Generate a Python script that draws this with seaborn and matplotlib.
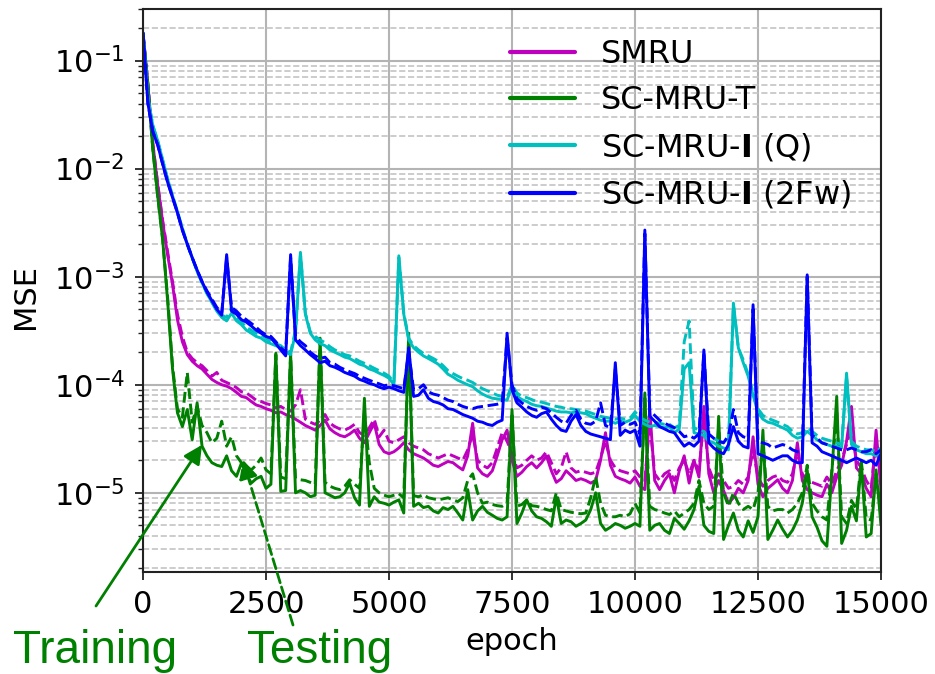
import numpy as np
import matplotlib
matplotlib.use("Agg")
import matplotlib.pyplot as plt
import seaborn as sns

# epochs sampled every 100
epochs = list(range(0, 15001, 100))

smru_train = [
    1.8e-1, 6.0e-2, 1.7e-2, 7.0e-3, 3.2e-3, 1.6e-3, 8.5e-4, 4.0e-4, 2.5e-4, 1.9e-4,
    1.65e-4, 1.5e-4, 1.4e-4, 1.25e-4, 1.12e-4, 1.05e-4, 1.0e-4, 9.7e-5, 9.2e-5, 8.5e-5,
    7.8e-5, 7.6e-5, 7.0e-5, 6.5e-5, 6.3e-5, 6.0e-5, 5.8e-5, 5.5e-5, 5.6e-5, 5.3e-5,
    5.1e-5, 4.8e-5, 4.5e-5, 4.2e-5, 4.0e-5, 3.8e-5, 4.2e-5, 4.7e-5, 3.9e-5, 3.6e-5,
    3.4e-5, 3.3e-5, 3.5e-5, 3.8e-5, 3.2e-5, 2.9e-5, 3.6e-5, 4.4e-5, 2.8e-5, 2.4e-5,
    2.3e-5, 2.4e-5, 2.6e-5, 2.9e-5, 2.5e-5, 2.3e-5, 2.2e-5, 2.1e-5, 1.95e-5, 1.8e-5,
    1.75e-5, 1.85e-5, 1.95e-5, 1.9e-5, 1.75e-5, 1.63e-5, 2.2e-5, 4.4e-5, 1.7e-5, 1.5e-5,
    1.42e-5, 1.6e-5, 2.2e-5, 3.1e-5, 3.8e-5, 2.0e-5, 1.42e-5, 1.55e-5, 1.75e-5, 1.9e-5,
    1.7e-5, 1.9e-5, 2.2e-5, 1.6e-5, 1.25e-5, 1.35e-5, 1.6e-5, 1.45e-5, 1.3e-5, 1.35e-5,
    1.3e-5, 1.23e-5, 1.3e-5, 2.0e-5, 3.6e-5, 1.8e-5, 1.42e-5, 1.35e-5, 1.3e-5, 1.23e-5,
    1.4e-5, 1.15e-5, 1.07e-5, 5.9e-5, 1.3e-5, 1.07e-5, 1.3e-5, 1.5e-5, 1.0e-5, 1.6e-5,
    2.2e-5, 1.23e-5, 2.0e-5, 1.4e-5, 6.3e-5, 1.5e-5, 1.0e-5, 1.3e-5, 1.05e-5, 8.0e-6,
    9.0e-6, 1.1e-5, 1.0e-5, 1.3e-5, 3.3e-5, 1.2e-5, 9.2e-6, 1.1e-5, 1.2e-5, 1.32e-5,
    1.1e-5, 1.0e-5, 1.3e-5, 2.9e-5, 1.3e-5, 1.07e-5, 1.0e-5, 9.5e-6, 9.2e-6, 1.2e-5,
    1.0e-5, 1.4e-5, 1.8e-5, 3.0e-5, 6.3e-5, 1.7e-5, 1.5e-5, 1.1e-5, 9.2e-6, 3.8e-5,
    1.07e-5]

smru_test = [
    1.8e-1, 6.0e-2, 1.7e-2, 7.2e-3, 3.3e-3, 1.7e-3, 9.0e-4, 4.5e-4, 2.8e-4, 2.0e-4,
    1.75e-4, 1.6e-4, 1.5e-4, 1.35e-4, 1.2e-4, 1.3e-4, 1.1e-4, 1.05e-4, 1.0e-4, 9.4e-5,
    8.6e-5, 8.4e-5, 7.8e-5, 7.2e-5, 7.0e-5, 6.7e-5, 6.5e-5, 6.1e-5, 6.3e-5, 5.9e-5,
    5.7e-5, 6.5e-5, 9.0e-5, 4.8e-5, 4.5e-5, 4.3e-5, 4.7e-5, 5.3e-5, 4.4e-5, 4.1e-5,
    3.9e-5, 3.8e-5, 4.0e-5, 4.3e-5, 3.6e-5, 3.4e-5, 4.0e-5, 4.8e-5, 3.3e-5, 3.8e-5,
    3.0e-5, 2.9e-5, 3.1e-5, 3.3e-5, 2.9e-5, 2.7e-5, 2.6e-5, 2.5e-5, 2.3e-5, 2.2e-5,
    2.1e-5, 2.2e-5, 2.3e-5, 2.2e-5, 2.1e-5, 2.0e-5, 2.5e-5, 3.5e-5, 2.0e-5, 1.8e-5,
    1.7e-5, 1.9e-5, 2.6e-5, 3.6e-5, 3.0e-5, 2.3e-5, 1.7e-5, 1.8e-5, 2.0e-5, 2.2e-5,
    2.0e-5, 2.1e-5, 2.4e-5, 1.9e-5, 1.5e-5, 1.7e-5, 2.4e-5, 1.7e-5, 1.55e-5, 1.6e-5,
    1.55e-5, 1.5e-5, 1.55e-5, 2.1e-5, 3.0e-5, 2.0e-5, 1.7e-5, 1.6e-5, 1.55e-5, 1.5e-5,
    1.6e-5, 1.4e-5, 1.3e-5, 4.5e-5, 1.5e-5, 1.3e-5, 1.5e-5, 1.6e-5, 1.3e-5, 1.7e-5,
    2.0e-5, 1.5e-5, 2.0e-5, 1.6e-5, 4.8e-5, 1.7e-5, 1.3e-5, 1.5e-5, 1.3e-5, 1.1e-5,
    1.15e-5, 1.3e-5, 1.2e-5, 1.4e-5, 2.5e-5, 1.4e-5, 1.15e-5, 1.3e-5, 1.4e-5, 1.45e-5,
    1.3e-5, 1.25e-5, 1.5e-5, 2.4e-5, 1.5e-5, 1.3e-5, 1.25e-5, 1.2e-5, 1.15e-5, 1.4e-5,
    1.2e-5, 1.6e-5, 2.0e-5, 2.8e-5, 4.0e-5, 2.0e-5, 1.7e-5, 1.3e-5, 1.1e-5, 3.0e-5,
    1.3e-5]

scmru_t_train = [
    1.8e-1, 5.8e-2, 1.5e-2, 5.5e-3, 2.2e-3, 6.0e-4, 1.4e-4, 5.5e-5, 4.1e-5, 5.9e-5,
    3.1e-5, 6.8e-5, 2.7e-5, 2.2e-5, 1.9e-5, 1.8e-5, 1.75e-5, 2.2e-5, 1.6e-5, 1.42e-5,
    1.88e-5, 1.5e-5, 1.23e-5, 1.35e-5, 1.42e-5, 1.1e-5, 1.2e-5, 1.96e-4, 1.03e-5, 1.05e-5,
    1.96e-4, 1.0e-5, 1.05e-5, 1.0e-5, 9.2e-6, 9.5e-6, 2.7e-4, 1.0e-5, 9.5e-6, 9.0e-6,
    9.2e-6, 1.0e-5, 1.23e-5, 9.0e-6, 7.7e-6, 7.5e-5, 7.5e-6, 9.2e-6, 8.2e-6, 8.0e-6,
    7.7e-6, 8.2e-6, 8.6e-6, 6.5e-6, 3.0e-4, 7.5e-6, 8.0e-6, 7.3e-6, 7.5e-6, 6.8e-6,
    6.5e-6, 7.3e-6, 7.0e-6, 7.5e-6, 6.5e-6, 5.6e-6, 1.07e-5, 5.6e-6, 6.8e-6, 7.5e-6,
    6.6e-6, 6.2e-6, 5.8e-6, 5.6e-6, 6.0e-6, 5.9e-5, 5.2e-6, 6.5e-6, 8.6e-6, 6.8e-6,
    6.0e-6, 5.8e-6, 5.4e-6, 4.9e-6, 9.2e-6, 5.2e-6, 5.6e-6, 5.4e-6, 4.9e-6, 5.2e-6,
    5.6e-6, 7.0e-6, 1.0e-5, 5.2e-6, 4.5e-6, 4.8e-6, 5.2e-6, 5.0e-6, 4.7e-6, 4.9e-6,
    5.2e-6, 4.9e-6, 8.4e-5, 4.5e-6, 5.0e-6, 5.2e-6, 4.5e-6, 4.2e-6, 5.8e-6, 5.2e-6,
    4.6e-6, 5.5e-6, 7.0e-6, 1.15e-5, 5.0e-6, 4.4e-6, 4.2e-6, 5.1e-5, 3.7e-6, 5.0e-6,
    6.5e-6, 4.5e-6, 3.9e-6, 5.5e-6, 4.3e-6, 6.0e-6, 3.8e-5, 3.7e-6, 4.5e-6, 5.6e-6,
    4.6e-6, 3.9e-6, 4.5e-6, 5.6e-6, 8.0e-6, 1.63e-5, 6.0e-6, 4.8e-6, 3.6e-6, 3.2e-6,
    1.5e-5, 7.8e-5, 3.4e-6, 4.5e-6, 7.5e-6, 5.5e-6, 1.9e-5, 3.9e-6, 4.2e-6, 1.63e-5,
    5.0e-6]

scmru_t_test = [
    1.8e-1, 5.8e-2, 1.5e-2, 5.5e-3, 2.2e-3, 6.5e-4, 1.5e-4, 6.0e-5, 5.0e-5, 1.3e-4,
    4.5e-5, 6.3e-5, 4.2e-5, 3.6e-5, 2.9e-5, 3.2e-5, 4.6e-5, 2.7e-5, 3.3e-5, 2.2e-5,
    1.9e-5, 1.75e-5, 1.63e-5, 1.8e-5, 2.1e-5, 1.63e-5, 1.5e-5, 1.9e-4, 1.4e-5, 1.35e-5,
    1.9e-4, 1.35e-5, 1.32e-5, 1.3e-5, 1.25e-5, 1.2e-5, 2.6e-4, 1.25e-5, 1.15e-5, 1.1e-5,
    1.07e-5, 1.15e-5, 1.32e-5, 1.2e-5, 1.1e-5, 5.5e-5, 1.9e-5, 1.1e-5, 1.0e-5, 9.5e-6,
    9.2e-6, 9.5e-6, 9.8e-6, 9.0e-6, 2.8e-4, 9.4e-6, 9.2e-6, 9.6e-6, 9.0e-6, 8.8e-6,
    8.6e-6, 8.8e-6, 9.0e-6, 8.6e-6, 8.3e-6, 9.0e-6, 1.3e-5, 1.5e-5, 1.0e-5, 8.0e-6,
    8.2e-6, 7.8e-6, 7.6e-6, 7.5e-6, 8.0e-6, 5.5e-5, 7.5e-6, 7.8e-6, 8.6e-6, 7.6e-6,
    7.5e-6, 7.3e-6, 7.0e-6, 6.8e-6, 1.0e-5, 7.0e-6, 6.8e-6, 6.6e-6, 6.5e-6, 6.4e-6,
    6.5e-6, 9.0e-6, 1.42e-5, 8.0e-6, 6.2e-6, 6.0e-6, 6.0e-6, 6.2e-6, 6.0e-6, 6.4e-6,
    8.0e-6, 6.5e-6, 7.5e-5, 7.5e-6, 7.0e-6, 6.8e-6, 6.5e-6, 6.3e-6, 6.8e-6, 6.0e-6,
    6.5e-6, 7.0e-6, 8.0e-6, 1.3e-5, 8.0e-6, 7.0e-6, 7.5e-6, 4.0e-5, 1.0e-5, 7.5e-6,
    1.0e-5, 8.0e-6, 7.0e-6, 7.5e-6, 7.0e-6, 1.0e-5, 3.0e-5, 7.5e-6, 6.8e-6, 7.0e-6,
    7.0e-6, 6.5e-6, 7.0e-6, 8.0e-6, 1.0e-5, 1.8e-5, 8.0e-6, 6.8e-6, 6.0e-6, 5.6e-6,
    1.6e-5, 5.5e-5, 6.0e-6, 5.2e-6, 8.5e-6, 7.0e-6, 2.0e-5, 5.8e-6, 5.6e-6, 1.5e-5,
    6.5e-6]

scmru_iq_train = [
    1.8e-1, 4.5e-2, 2.5e-2, 1.8e-2, 1.2e-2, 8.0e-3, 5.6e-3, 4.0e-3, 2.8e-3, 2.0e-3,
    1.5e-3, 1.12e-3, 8.8e-4, 7.0e-4, 5.8e-4, 4.8e-4, 4.2e-4, 3.9e-4, 4.6e-4, 3.9e-4,
    3.6e-4, 3.2e-4, 3.0e-4, 2.8e-4, 2.7e-4, 2.5e-4, 2.4e-4, 2.3e-4, 2.2e-4, 2.0e-4,
    1.9e-4, 3.0e-4, 1.68e-3, 4.5e-4, 3.0e-4, 2.6e-4, 2.4e-4, 2.3e-4, 2.1e-4, 2.0e-4,
    1.9e-4, 1.8e-4, 1.75e-4, 1.65e-4, 1.55e-4, 1.5e-4, 1.4e-4, 1.35e-4, 1.28e-4, 1.22e-4,
    1.15e-4, 1.0e-4, 1.56e-3, 4.5e-4, 2.6e-4, 2.2e-4, 2.0e-4, 1.85e-4, 1.75e-4, 1.65e-4,
    1.55e-4, 1.4e-4, 1.25e-4, 1.18e-4, 1.1e-4, 1.05e-4, 1.0e-4, 9.6e-5, 8.8e-5, 8.2e-5,
    7.8e-5, 7.5e-5, 7.4e-5, 7.3e-5, 7.2e-5, 9.7e-5, 7.8e-5, 7.3e-5, 7.0e-5, 6.6e-5,
    6.4e-5, 6.3e-5, 6.1e-5, 5.9e-5, 5.7e-5, 5.6e-5, 5.6e-5, 5.5e-5, 5.6e-5, 5.5e-5,
    5.4e-5, 5.1e-5, 4.9e-5, 4.7e-5, 4.6e-5, 4.6e-5, 4.4e-5, 4.6e-5, 4.5e-5, 4.7e-5,
    5.2e-5, 4.6e-5, 4.3e-5, 4.1e-5, 4.2e-5, 4.1e-5, 4.0e-5, 4.1e-5, 3.6e-5, 3.9e-5,
    1.4e-4, 1.6e-4, 3.6e-5, 3.5e-5, 3.4e-5, 3.0e-5, 2.9e-5, 2.7e-5, 2.6e-5, 2.5e-5,
    5.7e-4, 2.2e-4, 1.6e-4, 1.2e-4, 8.0e-5, 5.5e-5, 4.8e-5, 4.5e-5, 4.4e-5, 4.2e-5,
    4.0e-5, 3.8e-5, 3.4e-5, 3.2e-5, 3.3e-5, 3.7e-5, 3.4e-5, 3.1e-5, 2.9e-5, 2.8e-5,
    2.7e-5, 2.7e-5, 2.6e-5, 1.28e-4, 2.8e-5, 2.5e-5, 2.4e-5, 2.3e-5, 2.3e-5, 2.2e-5,
    2.5e-5]

scmru_iq_test = [
    1.8e-1, 4.5e-2, 2.5e-2, 1.8e-2, 1.2e-2, 8.0e-3, 5.6e-3, 4.0e-3, 2.8e-3, 2.0e-3,
    1.5e-3, 1.12e-3, 8.8e-4, 7.0e-4, 5.8e-4, 4.9e-4, 4.4e-4, 4.2e-4, 5.2e-4, 4.2e-4,
    3.8e-4, 3.4e-4, 3.2e-4, 3.0e-4, 2.9e-4, 2.7e-4, 2.5e-4, 2.4e-4, 2.3e-4, 2.1e-4,
    2.0e-4, 3.2e-4, 1.6e-3, 4.6e-4, 3.1e-4, 2.8e-4, 2.6e-4, 2.45e-4, 2.25e-4, 2.1e-4,
    2.0e-4, 1.9e-4, 1.85e-4, 1.75e-4, 1.65e-4, 1.58e-4, 1.5e-4, 1.42e-4, 1.35e-4, 1.28e-4,
    1.2e-4, 1.05e-4, 1.5e-3, 4.6e-4, 2.7e-4, 2.3e-4, 2.1e-4, 1.95e-4, 1.85e-4, 1.75e-4,
    1.65e-4, 1.5e-4, 1.35e-4, 1.27e-4, 1.2e-4, 1.14e-4, 1.1e-4, 1.05e-4, 9.8e-5, 9.2e-5,
    8.8e-5, 8.4e-5, 8.0e-5, 7.8e-5, 7.6e-5, 1.0e-4, 8.4e-5, 7.8e-5, 7.6e-5, 7.3e-5,
    7.0e-5, 6.9e-5, 6.7e-5, 6.5e-5, 6.3e-5, 6.2e-5, 6.0e-5, 6.0e-5, 5.9e-5, 5.8e-5,
    5.7e-5, 5.5e-5, 5.3e-5, 5.1e-5, 5.0e-5, 4.9e-5, 4.8e-5, 4.9e-5, 4.8e-5, 4.9e-5,
    5.6e-5, 5.0e-5, 4.7e-5, 4.5e-5, 4.5e-5, 4.4e-5, 4.3e-5, 4.3e-5, 4.0e-5, 4.2e-5,
    2.5e-4, 3.9e-4, 4.0e-5, 3.8e-5, 3.7e-5, 3.3e-5, 3.2e-5, 3.0e-5, 2.9e-5, 2.8e-5,
    5.5e-4, 2.2e-4, 1.7e-4, 1.25e-4, 8.5e-5, 6.0e-5, 5.2e-5, 4.9e-5, 4.7e-5, 4.5e-5,
    4.3e-5, 4.1e-5, 3.7e-5, 3.5e-5, 3.6e-5, 4.0e-5, 3.7e-5, 3.4e-5, 3.2e-5, 3.1e-5,
    3.0e-5, 2.9e-5, 2.8e-5, 1.2e-4, 3.0e-5, 2.7e-5, 2.6e-5, 2.5e-5, 2.5e-5, 2.4e-5,
    2.6e-5]

scmru_i2fw_train = [
    1.8e-1, 4.0e-2, 2.2e-2, 1.65e-2, 1.1e-2, 7.5e-3, 5.4e-3, 3.9e-3, 2.7e-3, 2.0e-3,
    1.5e-3, 1.15e-3, 9.0e-4, 7.2e-4, 6.0e-4, 5.0e-4, 4.4e-4, 1.6e-3, 4.8e-4, 4.5e-4,
    4.0e-4, 3.8e-4, 3.5e-4, 3.2e-4, 3.0e-4, 2.8e-4, 2.7e-4, 2.4e-4, 2.1e-4, 1.85e-4,
    1.6e-3, 2.6e-4, 2.3e-4, 2.1e-4, 1.9e-4, 1.75e-4, 1.6e-4, 1.65e-4, 1.5e-4, 1.45e-4,
    1.38e-4, 1.3e-4, 1.25e-4, 1.2e-4, 1.12e-4, 1.08e-4, 1.03e-4, 1.0e-4, 9.5e-5, 9.2e-5,
    9.5e-5, 9.2e-5, 8.8e-5, 8.5e-5, 2.2e-4, 7.8e-5, 8.0e-5, 9.0e-5, 7.5e-5, 7.0e-5,
    6.8e-5, 6.5e-5, 6.0e-5, 5.9e-5, 5.6e-5, 5.3e-5, 5.1e-5, 4.9e-5, 4.6e-5, 4.5e-5,
    4.3e-5, 4.2e-5, 4.5e-5, 4.7e-5, 3.0e-4, 9.0e-5, 6.8e-5, 6.2e-5, 5.6e-5, 5.2e-5,
    5.0e-5, 5.4e-5, 5.6e-5, 4.8e-5, 4.2e-5, 3.8e-5, 3.7e-5, 4.6e-5, 5.3e-5, 4.2e-5,
    3.7e-5, 3.5e-5, 3.4e-5, 3.3e-5, 3.2e-5, 3.1e-5, 1.6e-4, 3.4e-5, 3.8e-5, 3.6e-5,
    3.8e-5, 2.7e-5, 2.7e-3, 5.1e-5, 4.6e-5, 4.1e-5, 3.9e-5, 3.7e-5, 3.6e-5, 3.1e-5,
    2.7e-5, 2.9e-5, 2.7e-5, 3.0e-5, 2.1e-4, 2.9e-5, 2.6e-5, 2.4e-5, 2.3e-5, 2.8e-5,
    4.1e-5, 3.0e-5, 2.7e-5, 2.6e-5, 5.5e-4, 2.3e-5, 2.2e-5, 2.1e-5, 2.0e-5, 2.1e-5,
    2.2e-5, 2.2e-5, 2.0e-5, 1.9e-5, 1.9e-5, 1.04e-3, 2.9e-5, 2.7e-5, 2.4e-5, 2.3e-5,
    2.2e-5, 2.1e-5, 2.0e-5, 1.9e-5, 2.0e-5, 2.1e-5, 2.0e-5, 1.9e-5, 2.0e-5, 1.8e-5,
    2.3e-5]

scmru_i2fw_test = [
    1.8e-1, 4.0e-2, 2.2e-2, 1.65e-2, 1.1e-2, 7.5e-3, 5.4e-3, 3.9e-3, 2.7e-3, 2.0e-3,
    1.5e-3, 1.15e-3, 9.0e-4, 7.4e-4, 6.2e-4, 5.2e-4, 4.6e-4, 1.5e-3, 5.2e-4, 4.8e-4,
    4.3e-4, 4.0e-4, 3.7e-4, 3.4e-4, 3.1e-4, 2.9e-4, 2.8e-4, 2.5e-4, 2.2e-4, 2.0e-4,
    1.5e-3, 2.8e-4, 2.5e-4, 2.3e-4, 2.0e-4, 1.85e-4, 1.75e-4, 1.8e-4, 1.6e-4, 1.55e-4,
    1.45e-4, 1.38e-4, 1.32e-4, 1.27e-4, 1.2e-4, 1.15e-4, 1.1e-4, 1.06e-4, 1.02e-4, 9.8e-5,
    1.0e-4, 9.8e-5, 9.5e-5, 9.2e-5, 2.0e-4, 9.0e-5, 9.2e-5, 1.0e-4, 8.6e-5, 8.2e-5,
    8.0e-5, 7.6e-5, 7.2e-5, 7.0e-5, 6.6e-5, 6.3e-5, 6.1e-5, 6.0e-5, 6.2e-5, 6.3e-5,
    6.4e-5, 6.5e-5, 6.6e-5, 6.8e-5, 2.7e-4, 1.0e-4, 7.4e-5, 6.8e-5, 6.3e-5, 6.0e-5,
    5.8e-5, 6.2e-5, 6.0e-5, 5.5e-5, 5.0e-5, 4.6e-5, 4.4e-5, 5.2e-5, 5.8e-5, 4.8e-5,
    4.4e-5, 4.3e-5, 4.6e-5, 6.8e-5, 4.2e-5, 4.0e-5, 1.4e-4, 4.2e-5, 4.5e-5, 4.3e-5,
    4.5e-5, 3.5e-5, 2.5e-3, 5.8e-5, 5.2e-5, 4.7e-5, 4.4e-5, 4.2e-5, 4.0e-5, 3.7e-5,
    3.3e-5, 3.4e-5, 3.2e-5, 3.5e-5, 2.0e-4, 3.5e-5, 3.2e-5, 3.0e-5, 2.9e-5, 3.4e-5,
    5.9e-5, 3.6e-5, 3.3e-5, 3.2e-5, 5.0e-4, 3.0e-5, 2.9e-5, 2.8e-5, 2.6e-5, 2.7e-5,
    2.8e-5, 2.7e-5, 2.5e-5, 2.4e-5, 2.4e-5, 1.0e-3, 3.4e-5, 3.2e-5, 2.9e-5, 2.8e-5,
    2.7e-5, 2.6e-5, 2.5e-5, 2.5e-5, 2.6e-5, 2.5e-5, 2.4e-5, 2.4e-5, 2.5e-5, 2.3e-5,
    2.5e-5]

labels = ["SMRU", "SC-MRU-T", r"SC-MRU-$\mathbf{I}$ (Q)", r"SC-MRU-$\mathbf{I}$ (2Fw)"]
colors = ["#bf00bf", "#008000", "#00bfbf", "#0000ff"]
train_series = [smru_train, scmru_t_train, scmru_iq_train, scmru_i2fw_train]
test_series = [smru_test, scmru_t_test, scmru_iq_test, scmru_i2fw_test]

for s in train_series + test_series:
    assert len(s) == len(epochs), len(s)

sns.set_theme(style="white")
plt.rcParams["font.family"] = ["DejaVu Sans"]
plt.rcParams["mathtext.fontset"] = "dejavusans"
plt.rcParams["text.color"] = "black"
plt.rcParams["axes.labelcolor"] = "black"

fig = plt.figure(figsize=(9.35, 6.74), dpi=100)
ax = fig.add_axes([143 / 935, 102 / 674, 738 / 935, 563 / 674])

handles = []
for lab, col, tr, te in zip(labels, colors, train_series, test_series):
    sns.lineplot(x=epochs, y=tr, color=col, linewidth=2.1, ax=ax, legend=False,
                 estimator=None)
    handles.append(ax.lines[-1])
    sns.lineplot(x=epochs, y=te, color=col, linewidth=2.1, linestyle="--", ax=ax,
                 legend=False, estimator=None)

ax.set_yscale("log")
ax.set_xlim(0, 15000)
ax.set_ylim(1.85e-6, 0.3)
ax.set_xticks([0, 2500, 5000, 7500, 10000, 12500, 15000])
ax.set_xticklabels(["0", "2500", "5000", "7500", "10000", "12500", "15000"])

ax.grid(which="major", color="#b4b4b4", linewidth=1.5, linestyle="-")
ax.grid(which="minor", axis="y", color="#c4c4c4", linewidth=1.2, linestyle="--")
ax.set_axisbelow(True)

for sp in ax.spines.values():
    sp.set_color("#222222")
    sp.set_linewidth(1.5)

ax.tick_params(axis="both", which="major", direction="out", length=6, width=1.3,
               labelsize=22, pad=7, left=True, bottom=True, colors="#222222",
               labelcolor="black")
ax.tick_params(axis="y", which="minor", direction="out", length=3.5, width=1.0,
               left=True, colors="#222222")

ax.set_xlabel("epoch", fontsize=22, labelpad=6, color="black")
ax.set_ylabel("MSE", fontsize=22, color="black")
ax.yaxis.set_label_coords(-0.14, 0.49)

leg = ax.legend(handles, labels, loc="upper left", bbox_to_anchor=(0.497, 0.947),
                frameon=False, fontsize=23, borderpad=0, borderaxespad=0,
                handlelength=2.05, handletextpad=0.8, labelspacing=0.48,
                labelcolor="black")
for h in leg.legend_handles:
    h.set_linewidth(3)

green = "#008000"
ax.annotate("", xy=(1200, 2.78e-5), xycoords="data",
            xytext=(96, 674 - 606), textcoords="figure pixels",
            arrowprops=dict(arrowstyle="-|>", color=green, lw=2,
                            mutation_scale=28, shrinkA=0, shrinkB=0),
            annotation_clip=False)
ax.annotate("", xy=(2030, 2.02e-5), xycoords="data",
            xytext=(293, 674 - 625), textcoords="figure pixels",
            arrowprops=dict(arrowstyle="-|>", color=green, lw=2, linestyle="--",
                            mutation_scale=28, shrinkA=0, shrinkB=0),
            annotation_clip=False)

fig.text(13 / 935, (674 - 663) / 674, "Training", fontsize=33, color=green,
         family=["Liberation Sans", "DejaVu Sans"], ha="left", va="baseline")
fig.text(247 / 935, (674 - 663) / 674, "Testing", fontsize=33, color=green,
         family=["Liberation Sans", "DejaVu Sans"], ha="left", va="baseline")

fig.savefig("out.png", dpi=100, facecolor="white")
